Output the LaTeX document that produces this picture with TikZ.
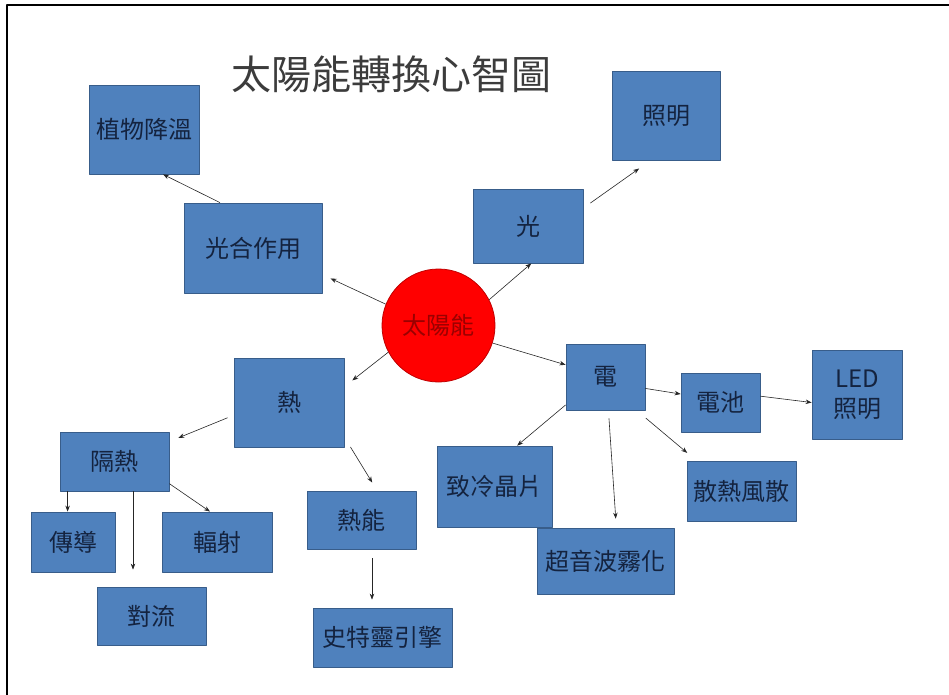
\documentclass[tikz,border=0pt]{standalone}
\usepackage{fontspec}
\setmainfont{Noto Sans CJK TC}
\usetikzlibrary{arrows.meta}
\definecolor{boxfill}{HTML}{4F81BD}
\definecolor{boxline}{HTML}{385D8A}
\definecolor{boxtext}{HTML}{14233F}
\definecolor{sunred}{HTML}{FF0000}
\definecolor{sunline}{HTML}{C00000}
\definecolor{suntext}{HTML}{9A0000}
\definecolor{titlegray}{HTML}{3C3C3C}
\begin{document}
\begin{tikzpicture}[x=1pt,y=-1pt,line join=round,
  box/.style={draw=boxline,fill=boxfill,text=boxtext,inner sep=0pt,line width=0.8pt,font=\fontsize{24}{30}\selectfont},
  arr/.style={-{Stealth[length=6pt,width=4.5pt]},draw=black!85,line width=0.6pt}]
\useasboundingbox (0,0) rectangle (949,695);
\draw[line width=1.6pt] (7,695)--(7,5)--(949,5);
\node[text=titlegray,font=\fontsize{40}{44}\selectfont] (title) at (391,74) {太陽能轉換心智圖};
\node[circle,draw=sunline,fill=sunred,text=suntext,minimum size=113pt,inner sep=0pt,line width=0.8pt,font=\fontsize{24}{28}\selectfont] (sun) at (438.5,325.5) {太陽能};
\node[box,minimum width=110pt,minimum height=89pt] (zw) at (144,129.5) {植物降溫};
\node[box,minimum width=138pt,minimum height=90pt] (gh) at (253,248) {光合作用};
\node[box,minimum width=110pt,minimum height=74pt] (guang) at (528,226) {光};
\node[box,minimum width=108pt,minimum height=89pt] (zm) at (666,115.5) {照明};
\node[box,minimum width=110pt,minimum height=89pt] (re) at (289,402.5) {熱};
\node[box,minimum width=109pt,minimum height=59pt] (gr) at (114.5,461.5) {隔熱};
\node[box,minimum width=84pt,minimum height=60pt] (cd) at (73,542) {傳導};
\node[box,minimum width=110pt,minimum height=60pt] (fs) at (217,542) {輻射};
\node[box,minimum width=109pt,minimum height=58pt] (dl) at (151.5,616) {對流};
\node[box,minimum width=109pt,minimum height=58pt] (rn) at (361.5,520) {熱能};
\node[box,minimum width=139pt,minimum height=59pt] (stl) at (382.5,637.5) {史特靈引擎};
\node[box,minimum width=79pt,minimum height=66pt] (dian) at (605.5,377) {電};
\node[box,minimum width=79pt,minimum height=59pt] (dc) at (720.5,402.5) {電池};
\node[box,minimum width=90pt,minimum height=89pt,align=center] (led) at (857,394.5) {LED\\照明};
\node[box,minimum width=115pt,minimum height=81pt] (zl) at (494.5,486.5) {致冷晶片};
\node[box,minimum width=137pt,minimum height=66pt] (cs) at (605.5,561) {超音波霧化};
\node[box,minimum width=109pt,minimum height=60pt] (sr) at (741.5,491) {散熱風散};
\draw[arr,shorten >=9pt] (sun.158)--(gh.-21);
\draw[arr] (sun.27)--(guang.-85);
\draw[arr,shorten <=8.5pt,shorten >=14pt] (guang.18)--(zm.-109);
\draw[arr] (gh.126)--(zw.-67);
\draw[arr,shorten >=10pt] (sun.208)--(re.16);
\draw[arr] (sun.-18)--(dian.163);
\draw[arr,shorten <=6.5pt,shorten >=9.7pt] (re.193)--(gr.20);
\draw[arr,shorten <=11.5pt,shorten >=9.4pt] (re.-32)--(rn.62);
\draw[arr] ([xshift=8pt]gr.south west)--([xshift=8pt]gr.south west |- cd.north);
\draw[arr,shorten >=17pt] ([xshift=18.5pt]gr.south)--([xshift=18.5pt]gr.south |- dl.north);
\draw[arr] (gr.-22)--(fs.103);
\draw[arr,shorten <=9pt,shorten >=8pt] ([xshift=10.5pt]rn.south)--([xshift=10.5pt]rn.south |- stl.north);
\draw[arr] (dian.-16)--(dc.168);
\draw[arr] (dc.9)--(led.190);
\draw[arr] (dian.215)--(zl.61);
\draw[arr,shorten <=8pt,shorten >=9pt] (dian.-85)--(cs.72);
\draw[arr,shorten <=12pt,shorten >=12pt] (dian.-47)--(sr.146);
\end{tikzpicture}
\end{document}
